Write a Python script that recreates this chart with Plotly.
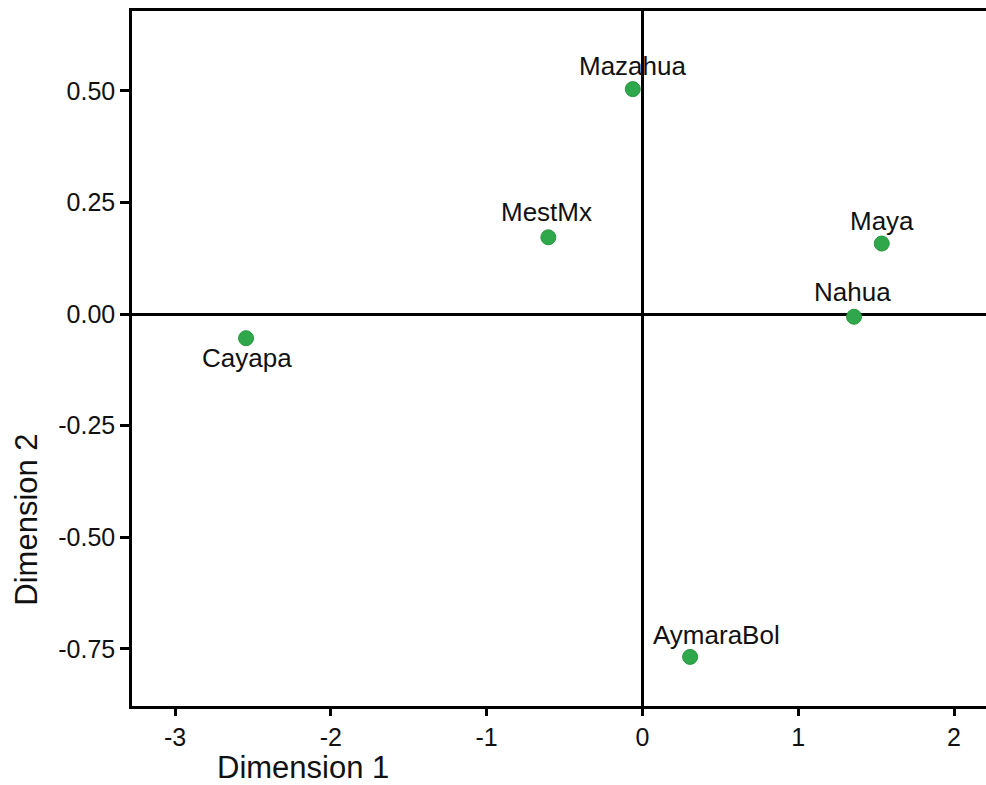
import plotly.graph_objects as go

# Object scores on the first two dimensions
groups = ["Mazahua", "MestMx", "Maya", "Nahua", "Cayapa", "AymaraBol"]
dim1 = [-0.062, -0.604, 1.536, 1.358, -2.544, 0.306]
dim2 = [0.504, 0.172, 0.158, -0.006, -0.054, -0.768]

x_ticks = [-3, -2, -1, 0, 1, 2]
y_ticks = [0.50, 0.25, 0.00, -0.25, -0.50, -0.75]
y_tick_text = ["0.50", "0.25", "0.00", "-0.25", "-0.50", "-0.75"]

# label offsets in pixels (x, y) relative to each point
label_shift = {
    "Mazahua": (0, 23),
    "MestMx": (-2, 25),
    "Maya": (0, 23),
    "Nahua": (-2, 25),
    "Cayapa": (1, -20),
    "AymaraBol": (26, 22),
}

FONT = "Liberation Sans, Arial, Helvetica, sans-serif"
GREEN = "#2fa84b"
INK = "#111111"

fig = go.Figure()
fig.add_trace(go.Scatter(
    x=dim1, y=dim2, mode="markers",
    marker=dict(size=15, color=GREEN, line=dict(color="#28963f", width=1)),
    hoverinfo="text", text=groups, showlegend=False,
))

for name, xv, yv in zip(groups, dim1, dim2):
    dx, dy = label_shift[name]
    fig.add_annotation(
        x=xv, y=yv, text=name, showarrow=False,
        xanchor="center", yanchor="middle", xshift=dx, yshift=dy,
        font=dict(family=FONT, size=26, color=INK),
    )

# axis titles
fig.add_annotation(
    xref="paper", yref="paper", x=0.2, y=-0.0885, text="Dimension 1",
    showarrow=False, xanchor="center", yanchor="middle", borderpad=0,
    font=dict(family=FONT, size=31, color=INK),
)
fig.add_annotation(
    xref="paper", yref="paper", x=-0.123, y=0.268, text="Dimension 2",
    showarrow=False, textangle=-90, xanchor="center", yanchor="middle",
    font=dict(family=FONT, size=31, color=INK),
)

axis_common = dict(
    showgrid=False, zeroline=True, zerolinecolor="black", zerolinewidth=2.5,
    showline=True, linecolor="black", linewidth=2.5,
    ticks="outside", tickwidth=2.5, tickcolor="black",
    tickfont=dict(family=FONT, size=25, color=INK),
)

fig.update_layout(
    width=986, height=785,
    margin=dict(l=132, r=0, t=11, b=79),
    paper_bgcolor="white", plot_bgcolor="white",
    font=dict(family=FONT, color=INK),
    xaxis=dict(
        range=[-3.276, 2.205], tickvals=x_ticks, ticktext=[str(v) for v in x_ticks],
        mirror=True, ticklen=7, **axis_common,
    ),
    yaxis=dict(
        range=[-0.878, 0.679], tickvals=y_ticks, ticktext=y_tick_text,
        mirror=False, ticklen=9, **axis_common,
    ),
)

fig.write_html("out.html")
